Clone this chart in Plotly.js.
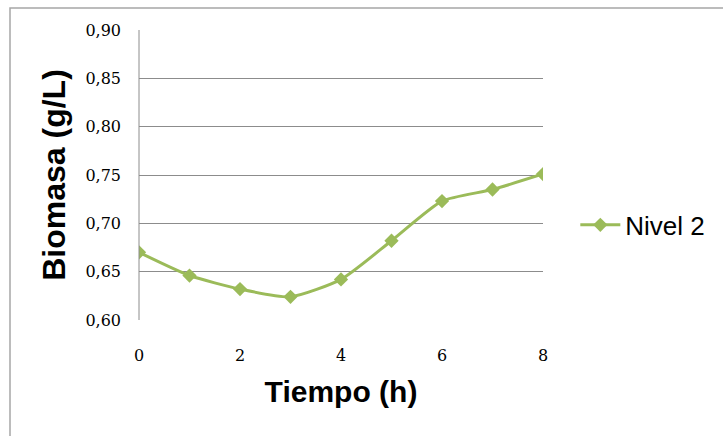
<!DOCTYPE html>
<html>
<head>
<meta charset="utf-8">
<script src="https://cdn.plot.ly/plotly-3.0.1.min.js"></script>
<style>
  html, body { margin: 0; padding: 0; background: #ffffff; }
  #chart { width: 723px; height: 436px; }
</style>
</head>
<body>
<div id="chart"></div>
<script>
// Biomass concentration over time, level 2
const tiempo = [0, 1, 2, 3, 4, 5, 6, 7, 8];
const biomasa = [0.670, 0.646, 0.632, 0.624, 0.642, 0.682, 0.723, 0.735, 0.751];
const serieNombre = 'Nivel 2';
const yTicks = [0.60, 0.65, 0.70, 0.75, 0.80, 0.85, 0.90];
const xTicks = [0, 2, 4, 6, 8];

const green = '#9bbb59';

const trace = {
  x: tiempo,
  y: biomasa,
  name: serieNombre,
  type: 'scatter',
  mode: 'lines+markers',
  line: { color: green, width: 3, shape: 'spline', smoothing: 0.6 },
  marker: { symbol: 'diamond', size: 11, color: green }
};

const layout = {
  width: 723,
  height: 436,
  separators: ',.',
  paper_bgcolor: '#ffffff',
  plot_bgcolor: '#ffffff',
  margin: { l: 139, r: 180, t: 30, b: 116 },
  xaxis: {
    range: [0, 8],
    tickvals: xTicks,
    showgrid: false,
    zeroline: false,
    showline: false,
    ticks: '',
    ticklabelstandoff: 24,
    tickfont: { family: 'DejaVu Serif', size: 16, color: '#000000' },
    title: {
      text: 'Tiempo (h)',
      font: { family: 'Liberation Sans', size: 30, color: '#000000', weight: 'bold' },
      standoff: 16
    }
  },
  yaxis: {
    range: [0.60, 0.90],
    tickvals: yTicks,
    tickformat: '.2f',
    showgrid: true,
    gridcolor: '#8c8c8c',
    gridwidth: 1,
    zeroline: false,
    showline: false,
    ticks: '',
    ticklabelstandoff: 17,
    tickfont: { family: 'DejaVu Serif', size: 16, color: '#000000' },
    title: {
      text: 'Biomasa (g/L)',
      font: { family: 'Liberation Sans', size: 32, color: '#000000', weight: 'bold' },
      standoff: 10
    }
  },
  legend: {
    x: 1.08,
    y: 0.328,
    xanchor: 'left',
    yanchor: 'middle',
    itemwidth: 40,
    font: { family: 'Liberation Sans', size: 26, color: '#000000' },
    bgcolor: 'rgba(0,0,0,0)'
  },
  showlegend: true,
  shapes: [
    // left plot-area edge
    { type: 'line', xref: 'paper', yref: 'paper', x0: 0, x1: 0, y0: 0, y1: 1,
      line: { color: '#8c8c8c', width: 1 } },
    // outer chart frame
    { type: 'rect', xref: 'paper', yref: 'paper',
      x0: -0.3193, x1: 1.46, y0: -0.42, y1: 1.0759,
      line: { color: '#a6a6a6', width: 1.5 }, fillcolor: 'rgba(0,0,0,0)', layer: 'below' }
  ]
};

Plotly.newPlot('chart', [trace], layout, { displayModeBar: false, staticPlot: true });
</script>
</body>
</html>
